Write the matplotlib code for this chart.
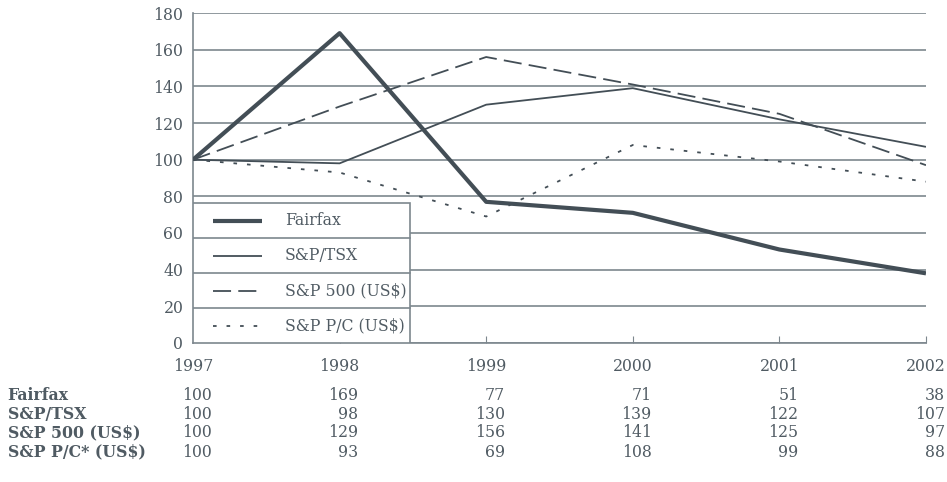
"""
Fairfax vs indices, 1997-2002 (index 1997 = 100)
"""

import matplotlib.pyplot as plt
import matplotlib.transforms as mtransforms
from matplotlib.lines import Line2D
from matplotlib.patches import Rectangle

years = [1997, 1998, 1999, 2000, 2001, 2002]
fairfax = [100, 169, 77, 71, 51, 38]
tsx = [100, 98, 130, 139, 122, 107]
sp500 = [100, 129, 156, 141, 125, 97]
sppc = [100, 93, 69, 108, 99, 88]

legend_labels = ['Fairfax', 'S&P/TSX', 'S&P 500 (US$)', 'S&P P/C (US$)']
table_labels = ['Fairfax', 'S&P/TSX', 'S&P 500 (US$)', 'S&P P/C* (US$)']

ink = '#434e56'
txt = '#505b63'
grid_c = '#7d878e'
fs = 11.3

plt.rcParams['font.family'] = ['DejaVu Serif']
plt.rcParams['font.size'] = fs

fig = plt.figure(figsize=(9.47, 4.82), dpi=100)
ax = fig.add_axes([0.2038, 0.2884, 0.774, 0.6846])

styles = [
    dict(lw=3.0, ls='-'),
    dict(lw=1.3, ls='-'),
    dict(lw=1.3, ls=(0, (10, 4))),
    dict(lw=1.3, ls=(0, (2, 5.5))),
]
series = [fairfax, tsx, sp500, sppc]

for s, st in zip(series, styles):
    ax.plot(years, s, color=ink, solid_capstyle='butt', dash_capstyle='butt', zorder=3, **st)

ax.set_xlim(1997, 2002)
ax.set_ylim(0, 180)
ax.set_yticks(range(0, 181, 20))
ax.set_xticks(years)
ax.yaxis.grid(True, color=grid_c, lw=1.2)
ax.set_axisbelow(True)
for side in ['top', 'right']:
    ax.spines[side].set_visible(False)
ax.spines['left'].set_color(grid_c)
ax.spines['bottom'].set_color(grid_c)
ax.spines['left'].set_linewidth(1.2)
ax.spines['bottom'].set_linewidth(1.2)
ax.tick_params(axis='y', length=0, pad=7, labelcolor=txt, labelsize=fs)
ax.tick_params(axis='x', direction='in', length=5, color=grid_c, labelcolor=txt, labelsize=fs, pad=11)

# boxed legend with separated rows
lx0, lx1 = 0.0, 0.296
ly0, ly1 = 0.0, 0.424
ax.add_patch(Rectangle((lx0, ly0), lx1 - lx0, ly1 - ly0, transform=ax.transAxes,
                       facecolor='white', edgecolor=grid_c, lw=1.2, zorder=5))
rows = len(legend_labels)
rh = (ly1 - ly0) / rows
for i, (lab, st) in enumerate(zip(legend_labels, styles)):
    yc = ly1 - rh * (i + 0.5)
    if i > 0:
        ax.add_line(Line2D([lx0, lx1], [ly1 - rh * i] * 2, transform=ax.transAxes,
                           color=grid_c, lw=1.2, zorder=6))
    ax.add_line(Line2D([0.027, 0.094], [yc, yc], transform=ax.transAxes, color=ink,
                       zorder=7, solid_capstyle='butt', dash_capstyle='butt', **st))
    ax.text(0.125, yc, lab, transform=ax.transAxes, va='center', ha='left',
            color=txt, fontsize=fs, zorder=7)

# data table under the chart
trans = mtransforms.blended_transform_factory(ax.transData, fig.transFigure)
row_y = [0.180, 0.141, 0.102, 0.062]
for lab, s, y in zip(table_labels, series, row_y):
    fig.text(0.008, y, lab, ha='left', va='center', fontweight='bold', color=txt, fontsize=fs)
    for yr, v in zip(years, s):
        t = mtransforms.offset_copy(trans, fig=fig, x=19, y=0, units='dots')
        fig.text(yr, y, str(v), transform=t, ha='right', va='center', color=txt, fontsize=fs)

fig.savefig('out.png', dpi=100)
